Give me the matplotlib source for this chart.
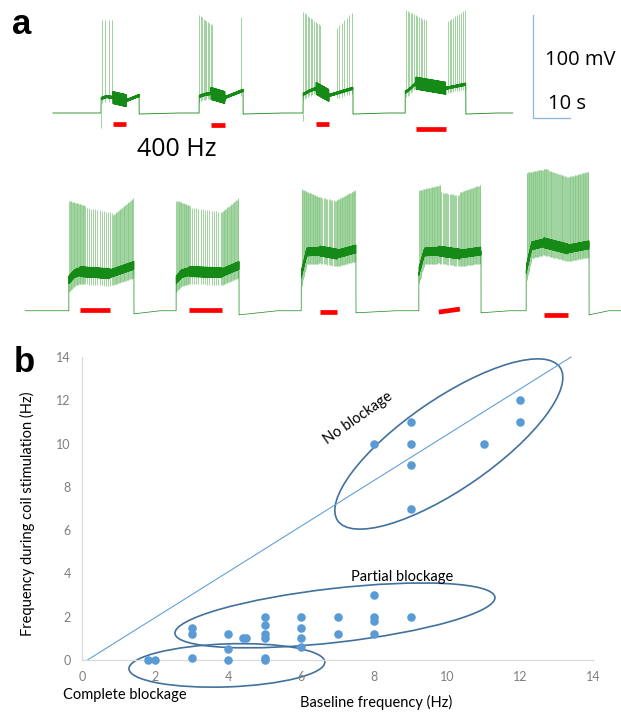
import numpy as np
import matplotlib
matplotlib.use('Agg')
import matplotlib.pyplot as plt
from matplotlib.patches import Ellipse
from matplotlib.transforms import IdentityTransform
from matplotlib.collections import LineCollection

# ---------------- panel a: membrane potential traces (s, mV) ----------------
row1_span = (14.3, 138.6)
row1_onset = [27.3, 53.8, 81.9, 109.5]
row1_offset = [37.6, 65.7, 95.4, 125.9]
row1_stim = [(30.5, 34.1), (57.0, 60.8), (85.4, 88.9), (112.4, 120.5)]
# plateau level at onset, onset+1.5 s, stim start, stim end, offset
row1_plateau = [[-46, -44, -45, -48, -43],
                [-44, -42, -41, -45, -38],
                [-42, -39, -36, -43, -36],
                [-40, -36, -31, -36, -32]]
row1_after = [-61, -61, -61, -61]
row1_bar_y0 = [-71, -72, -71, -75.5]
row1_bar_y1 = [-71, -72, -71, -75.5]
# downward transients at burst onset
row1_dip_t = [27.3, 81.9]
row1_dip_v = [-75, -68]
# spike bursts: first time, last time, count, first peak, last peak
row1_burst_t0 = [27.6, 53.9, 65.1, 82.0, 91.0, 109.7, 121.0]
row1_burst_t1 = [30.3, 57.3, 65.1, 86.5, 95.1, 115.0, 125.6]
row1_burst_n = [4, 10, 1, 12, 7, 13, 10]
row1_burst_p0 = [30, 35, 33, 38, 23, 40, 29]
row1_burst_p1 = [30, 25, 33, 25, 37, 30, 40]

row2_span = (6.8, 167.8)
row2_onset = [18.6, 47.6, 81.4, 113.2, 142.2]
row2_offset = [36.2, 64.6, 96.2, 130.0, 159.2]
row2_stim = [(21.6, 29.7), (51.1, 60.0), (86.5, 91.1), (118.6, 124.3), (147.0, 153.5)]
row2_plateau = [[-30, -24, -22, -24, -16],
                [-30, -24, -22, -23, -16],
                [-25, -3, -2, -5, 0],
                [-22, -3, -2, -5, -2],
                [-20, 3, 6, 0, 4]]
row2_after = [-63, -64, -62, -62, -64]
row2_bar_y0 = [-59.5, -59.5, -61, -61.3, -64.2]
row2_bar_y1 = [-59.5, -59.5, -61, -58.4, -64.2]
row2_burst_t0 = [18.7, 23.5, 30.6, 47.7, 51.8, 60.0, 81.5, 86.8, 90.8,
                 113.3, 119.3, 124.3, 142.3, 148.3, 153.8]
row2_burst_t1 = [22.9, 30.3, 36.0, 51.3, 59.6, 64.4, 86.5, 90.5, 96.0,
                 119.0, 124.0, 129.8, 148.0, 153.5, 159.0]
row2_burst_n = [22, 13, 26, 20, 14, 22, 28, 12, 28, 30, 16, 28, 32, 22, 28]
row2_burst_p0 = [47, 40, 33, 47, 40, 36, 58, 50, 47, 57, 55, 55, 74, 76, 70]
row2_burst_p1 = [42, 35, 49, 42, 36, 49, 50, 47, 57, 62, 52, 62, 78, 70, 75]
row2_offset_mv = -192

# ---------------- panel b: coil stimulation vs baseline firing ----------------
baseline_hz = [1.8, 2.0, 3, 3, 3, 4, 4, 4, 4.4, 4.5, 5, 5, 5, 5, 5, 5,
               6, 6, 6, 6, 7, 7, 8, 8, 8, 8, 9,
               8, 9, 9, 9, 9, 11, 12, 12]
coil_hz = [0, 0, 1.5, 1.2, 0.1, 1.2, 0.5, 0, 1.0, 1.0, 2.0, 1.6, 1.2, 1.0, 0.1, 0,
           2.0, 1.5, 1.0, 0.6, 2.0, 1.2, 3.0, 2.0, 1.8, 1.2, 2.0,
           10, 11, 10, 9, 7, 10, 12, 11]
diag_x = [0.15, 13.4]
diag_y = [0, 14]
group_names = ['No blockage', 'Partial blockage', 'Complete blockage']
ell_cx = [10.05, 6.93, 3.97]
ell_cy = [9.98, 2.06, -0.25]
ell_w = [270, 322, 196]   # pixels
ell_h = [90, 54, 43]
ell_angle = [34.6, 6.5, 2]


def build_row(span, onset, offset, stim, plateau, after, rest_amp, stim_amp):
    t = np.arange(span[0], span[1], 0.01)
    v = np.full_like(t, -60.0)
    # baseline recovers from the post-burst level to -60 mV before next onset
    for i, off in enumerate(offset):
        nxt = onset[i + 1] if i + 1 < len(onset) else span[1]
        m = (t > off) & (t < nxt)
        v[m] = np.interp(t[m], [off, off + 0.6 * (nxt - off), nxt],
                         [after[i], -60, -60])
    for on, off, (s0, s1), lev in zip(onset, offset, stim, plateau):
        m = (t >= on) & (t <= off)
        tt = t[m]
        base = np.interp(tt, [on, on + 1.5, s0, s1, off], lev)
        amp = np.where((tt >= s0) & (tt <= s1), stim_amp, rest_amp)
        v[m] = base + amp * np.sin(2 * np.pi * 12 * tt)
    return t, v


def spike_segments(onset, offset, stim, plateau, t0s, t1s, ns, p0s, p1s, ahp, shift):
    segs = []
    for t0, t1, n, p0, p1 in zip(t0s, t1s, ns, p0s, p1s):
        for ts, pk in zip(np.linspace(t0, t1, n), np.linspace(p0, p1, n)):
            for on, off, (s0, s1), lev in zip(onset, offset, stim, plateau):
                if on <= ts <= off:
                    lv = np.interp(ts, [on, on + 1.5, s0, s1, off], lev)
                    segs.append([(ts, lv - ahp + shift), (ts, pk + shift)])
    return segs


fig = plt.figure(figsize=(6.21, 7.12), dpi=100)

ax_a = fig.add_axes([0, 1 - 335 / 712, 1, 335 / 712])
ax_a.set_xlim(0, 621 / 3.7)
ax_a.set_ylim(-60 - (335 - 113) / 1.03, -60 + 113 / 1.03)
ax_a.axis('off')

dark = '#168a16'
light = '#86c886'

t1, v1 = build_row(row1_span, row1_onset, row1_offset, row1_stim, row1_plateau,
                   row1_after, 1.2, 6)
t2, v2 = build_row(row2_span, row2_onset, row2_offset, row2_stim, row2_plateau,
                   row2_after, 4, 5)
segs1 = spike_segments(row1_onset, row1_offset, row1_stim, row1_plateau,
                       row1_burst_t0, row1_burst_t1, row1_burst_n,
                       row1_burst_p0, row1_burst_p1, 5, 0)
segs2 = spike_segments(row2_onset, row2_offset, row2_stim, row2_plateau,
                       row2_burst_t0, row2_burst_t1, row2_burst_n,
                       row2_burst_p0, row2_burst_p1, 12, row2_offset_mv)
segs1 += [[(td, -60), (td, vd)] for td, vd in zip(row1_dip_t, row1_dip_v)]
ax_a.add_collection(LineCollection(segs1 + segs2, colors=light, linewidths=0.7,
                                   alpha=0.8))
ax_a.plot(t1, v1, color=dark, lw=0.6)
ax_a.plot(t2, v2 + row2_offset_mv, color=dark, lw=0.5)

# stimulation bars
for (s0, s1), y0, y1 in zip(row1_stim, row1_bar_y0, row1_bar_y1):
    ax_a.plot([s0, s1], [y0, y1], color='red', lw=3.4, solid_capstyle='butt')
for (s0, s1), y0, y1 in zip(row2_stim, row2_bar_y0, row2_bar_y1):
    ax_a.plot([s0, s1], [y0 + row2_offset_mv, y1 + row2_offset_mv], color='red',
              lw=3.4, solid_capstyle='butt', zorder=5)

# scale bar
ax_a.plot([144.05, 144.05, 154.05], [35.1, -64.9, -64.9], color='#8db4e2', lw=0.9)
ax_a.text(147.3, -8.5, '100 mV', fontsize=14.5, family='Open Sans', va='center')
ax_a.text(148.1, -51.3, '10 s', fontsize=14.5, family='Open Sans', va='center')
ax_a.text(47.8, -95, '400 Hz', fontsize=18, family='Open Sans', ha='center', va='center')

fig.text(22 / 621, 1 - 24 / 712, 'a', fontsize=25, fontweight='bold',
         family='Liberation Sans', ha='center', va='center')
fig.text(24 / 621, 1 - 362 / 712, 'b', fontsize=25, fontweight='bold',
         family='Liberation Sans', ha='center', va='center')

# ---------------- panel b ----------------
ax_b = fig.add_axes([82 / 621, 52 / 712, 511 / 621, 303 / 712])
ax_b.set_xlim(0, 14)
ax_b.set_ylim(0, 14)
ax_b.set_xticks(range(0, 15, 2))
ax_b.set_yticks(range(0, 15, 2))
for s in ['top', 'right']:
    ax_b.spines[s].set_visible(False)
for s in ['left', 'bottom']:
    ax_b.spines[s].set_color('#d9d9d9')
    ax_b.spines[s].set_linewidth(0.9)
ax_b.tick_params(length=0, labelsize=9, labelcolor='#7f7f7f')
ax_b.tick_params(axis='y', pad=8)
ax_b.tick_params(axis='x', pad=8)
for lab in ax_b.get_xticklabels() + ax_b.get_yticklabels():
    lab.set_family('Lato')

ax_b.plot(diag_x, diag_y, color='#5b9bd5', lw=0.75, clip_on=False)
ax_b.scatter(baseline_hz, coil_hz, s=38, color='#5b9bd5', zorder=3, clip_on=False,
             linewidths=0)

for cx, cy, w, h, ang in zip(ell_cx, ell_cy, ell_w, ell_h, ell_angle):
    center = ax_b.transData.transform((cx, cy))
    ax_b.add_patch(Ellipse(center, w, h, angle=ang, fill=False, edgecolor='#41719c',
                           lw=1.2, transform=IdentityTransform(), clip_on=False))

ax_b.text(7.56, 11.18, group_names[0], rotation=35, ha='center', va='center',
          fontsize=10.5, family='Lato', rotation_mode='anchor')
ax_b.text(8.77, 3.84, group_names[1], ha='center', va='center', fontsize=10.5,
          family='Lato')
ax_b.text(1.18, -1.62, group_names[2], ha='center', va='center', fontsize=10.5,
          family='Lato', clip_on=False)

ax_b.set_xlabel('Baseline frequency (Hz)', fontsize=10.5, family='Lato')
ax_b.xaxis.set_label_coords((376 - 82) / 511, -(695 - 660) / 303)
ax_b.set_ylabel('Frequency during coil stimulation (Hz)', fontsize=10.5, family='Lato')
ax_b.yaxis.set_label_coords((35 - 82) / 511, (660 - 514) / 303)

fig.savefig('out.png', dpi=100)
